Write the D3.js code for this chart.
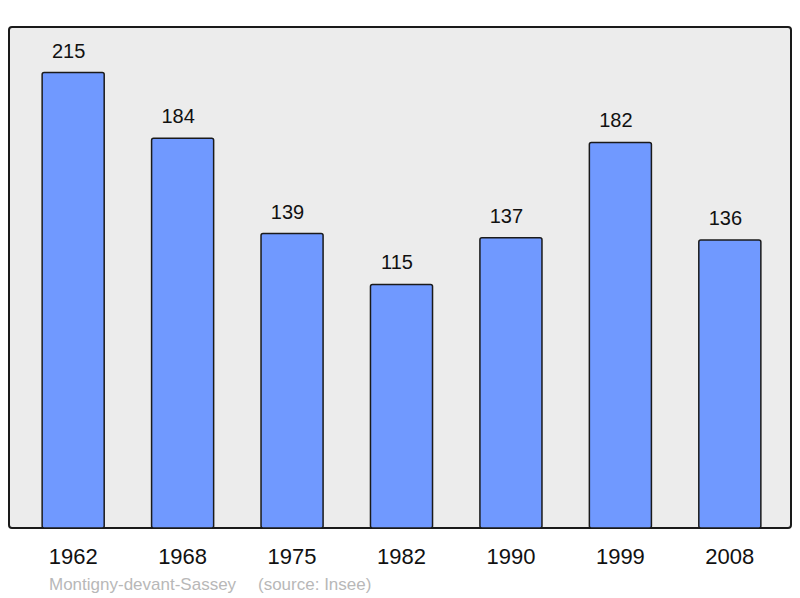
<!DOCTYPE html>
<html><head><meta charset="utf-8">
<script src="https://cdn.jsdelivr.net/npm/d3@7"></script>
<style>body{margin:0;background:#fff}svg{display:block}text{font-family:"Liberation Sans",Arial,sans-serif}</style>
</head><body>
<script>
const years = ["1962","1968","1975","1982","1990","1999","2008"];
const population = [215,184,139,115,137,182,136];
const commune = "Montigny-devant-Sassey";
const source = "(source: Insee)";

const W = 800, H = 598;
const svg = d3.select("body").append("svg").attr("width", W).attr("height", H);

const panel = {x0: 9, y0: 27, x1: 791, y1: 528};
svg.append("rect")
  .attr("x", panel.x0).attr("y", panel.y0)
  .attr("width", panel.x1 - panel.x0).attr("height", panel.y1 - panel.y0)
  .attr("rx", 3).attr("fill", "#ececec").attr("stroke", "#1a1a1a").attr("stroke-width", 2);

const x = d3.scaleBand().domain(years).range([18.5, 784.5]).paddingInner(0.433).paddingOuter(0.216);
const y = d3.scaleLinear().domain([0, d3.max(population) * 1.1]).range([panel.y1, panel.y0]);

const data = years.map((yr, i) => ({yr, v: population[i]}));

svg.append("g").selectAll("rect").data(data).join("rect")
  .attr("x", d => x(d.yr)).attr("y", d => y(d.v))
  .attr("width", x.bandwidth()).attr("height", d => y(0) - y(d.v))
  .attr("rx", 2).attr("fill", "#7099ff").attr("stroke", "#1a1a1a").attr("stroke-width", 1.5);

svg.append("g").selectAll("text").data(data).join("text")
  .attr("x", d => x(d.yr) + x.bandwidth() / 2 - 4.5).attr("y", d => y(d.v) - 15)
  .attr("text-anchor", "middle").attr("font-size", 20).attr("fill", "#111")
  .text(d => d.v);

svg.append("g").selectAll("text").data(data).join("text")
  .attr("x", d => x(d.yr) + x.bandwidth() / 2).attr("y", 564)
  .attr("text-anchor", "middle").attr("font-size", 22).attr("fill", "#111")
  .text(d => d.yr);

svg.append("text").attr("x", 49).attr("y", 590).attr("font-size", 17).attr("fill", "#b8b8b8")
  .text(commune);
svg.append("text").attr("x", 258).attr("y", 590).attr("font-size", 17).attr("fill", "#b8b8b8")
  .text(source);
</script>
</body></html>
